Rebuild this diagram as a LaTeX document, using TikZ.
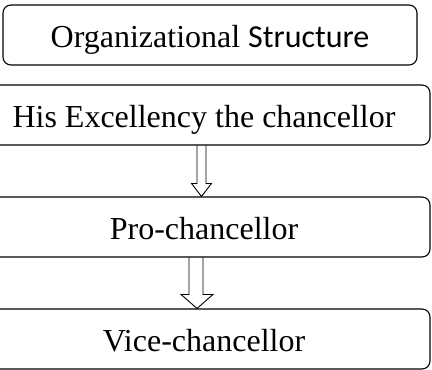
\documentclass[tikz,border=0pt]{standalone}
\usepackage{fontspec}
\setmainfont{Liberation Serif}
\newfontfamily\carlito{Carlito}
\usetikzlibrary{calc}

\tikzset{
	orgbox/.style={draw, rounded corners=8pt, line width=1.1pt, minimum height=60pt, inner sep=0pt, text height=24pt, text depth=0pt, font=\fontsize{32}{38}\selectfont},
	hollow/.style={draw, line width=0.9pt, line join=miter}
}

\begin{document}
\begin{tikzpicture}
	\useasboundingbox (0,0) rectangle (432pt,-370pt);
	\node[orgbox, minimum width=414pt] (org) at (210pt,-35pt) {Organizational {\carlito Structure}\hspace{15pt}};
	\node[orgbox, minimum width=452pt] (his) at (204pt,-115pt) {His Excellency the chancellor};
	\node[orgbox, minimum width=452pt] (pro) at (204pt,-227pt) {Pro-chancellor};
	\node[orgbox, minimum width=452pt] (vice) at (204pt,-339pt) {Vice-chancellor};
	% hollow arrows between the boxes
	\draw[hollow] ($(his.south)+(-7pt,0)$) -- ($(pro.north)+(-7pt,13pt)$) -- ($(pro.north)+(-12.5pt,13pt)$) -- ($(pro.north)+(-2.5pt,0)$) -- ($(pro.north)+(7.5pt,13pt)$) -- ($(pro.north)+(2pt,13pt)$) -- ($(his.south)+(2pt,0)$);
	\draw[hollow] ($(pro.south)+(-15pt,0)$) -- ($(vice.north)+(-15pt,14pt)$) -- ($(vice.north)+(-23pt,14pt)$) -- ($(vice.north)+(-7pt,0)$) -- ($(vice.north)+(9pt,14pt)$) -- ($(vice.north)+(-1pt,14pt)$) -- ($(pro.south)+(-1pt,0)$);
\end{tikzpicture}
\end{document}
